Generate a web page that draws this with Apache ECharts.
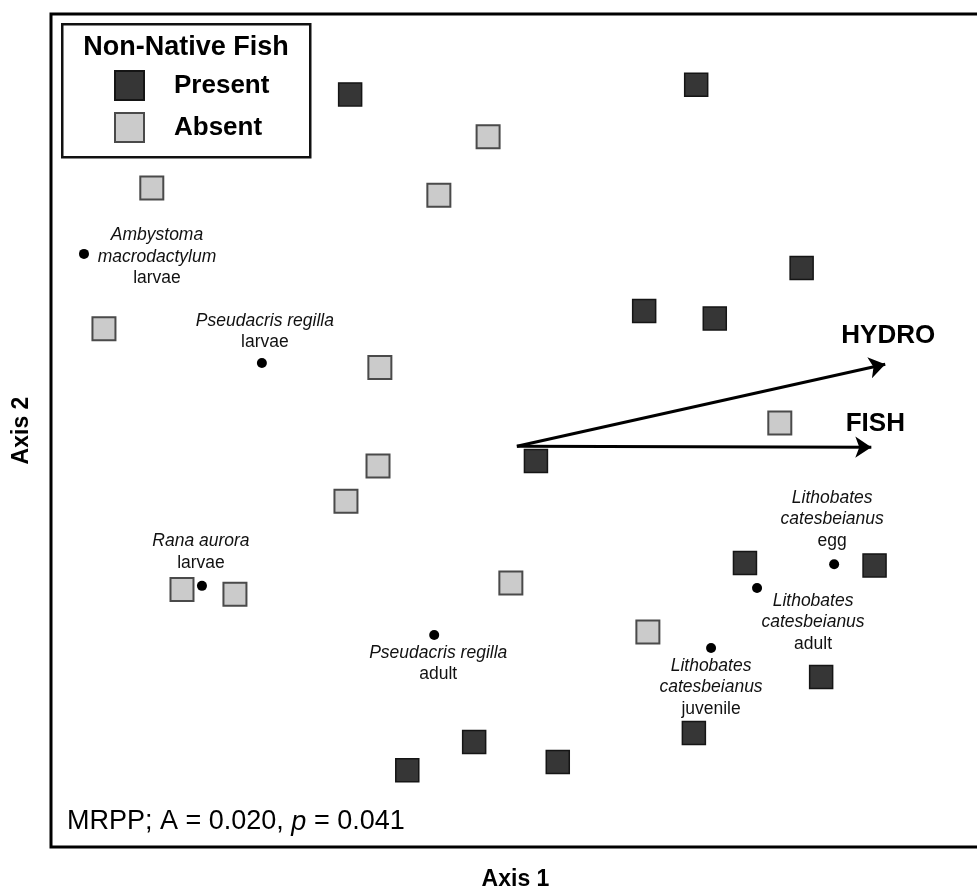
<!DOCTYPE html>
<html>
<head>
<meta charset="utf-8">
<script src="https://cdn.jsdelivr.net/npm/echarts@6/dist/echarts.min.js"></script>
<style>
  html, body { margin: 0; padding: 0; background: #fff; }
  #chartNmds { width: 977px; height: 891px; }
</style>
</head>
<body>
<div id="chartNmds"></div>
<script>
// ordination scores (axis units, -1..1)
const presentX = [-0.356, 0.389, 0.616, 0.277, 0.429, 0.044, 0.494, 0.773, 0.658, 0.384, -0.089, 0.091, -0.233]
const presentY = [0.807, 0.830, 0.390, 0.287, 0.269, -0.073, -0.318, -0.324, -0.592, -0.726, -0.748, -0.796, -0.816]

const absentX = [-0.783, -0.059, -0.165, -0.886, -0.292, -0.296, -0.365, 0.569, -0.718, -0.604, -0.010, 0.285]
const absentY = [0.582, 0.705, 0.565, 0.244, 0.151, -0.085, -0.170, 0.018, -0.382, -0.393, -0.366, -0.484]

const speciesNames = [
  'Ambystoma\nmacrodactylum',
  'Pseudacris regilla',
  'Rana aurora',
  'Pseudacris regilla',
  'Lithobates\ncatesbeianus',
  'Lithobates\ncatesbeianus',
  'Lithobates\ncatesbeianus'
]
const speciesStages = ['larvae', 'larvae', 'larvae', 'adult', 'egg', 'adult', 'juvenile']
const speciesX = [-0.929, -0.546, -0.675, -0.175, 0.686, 0.520, 0.421]
const speciesY = [0.424, 0.162, -0.373, -0.491, -0.321, -0.378, -0.522]

const vectorNames = ['HYDRO', 'FISH']
const vectorOrigin = [0.003, -0.038]
const vectorEndX = [0.796, 0.766]
const vectorEndY = [0.159, -0.040]

const legendTitle = 'Non-Native Fish'
const mrppA = '0.020'
const mrppP = '0.041'

const FONT = '"Liberation Sans", Arial, Helvetica, sans-serif'

// label placement (pixels from the point)
const speciesLabelOffset = [[73, 3], [3, -31.5], [-1, -33.5], [4, 28.5], [-2, -45], [56, 34.5], [0, 39.5]]
const vectorLabelOffset = [[3, -28], [4, -23]]

const myChart = echarts.init(document.getElementById('chartNmds'))

const option = {
  animation: false,
  backgroundColor: '#fff',
  grid: {
    left: 51,
    top: 14,
    right: -3,
    bottom: 44,
    outerBoundsMode: 'none',
    show: true,
    borderColor: '#000',
    borderWidth: 3
  },
  xAxis: {
    type: 'value',
    min: -1,
    max: 1,
    name: 'Axis 1',
    nameLocation: 'middle',
    nameGap: 21,
    nameTextStyle: { fontFamily: FONT, fontWeight: 'bold', fontSize: 23, color: '#000' },
    axisLine: { show: false },
    axisTick: { show: false },
    axisLabel: { show: false },
    splitLine: { show: false }
  },
  yAxis: {
    type: 'value',
    min: -1,
    max: 1,
    name: 'Axis 2',
    nameLocation: 'middle',
    nameGap: 17.5,
    nameTextStyle: { fontFamily: FONT, fontWeight: 'bold', fontSize: 23, color: '#000' },
    axisLine: { show: false },
    axisTick: { show: false },
    axisLabel: { show: false },
    splitLine: { show: false }
  },
  legend: {
    data: ['Present', 'Absent'],
    orient: 'vertical',
    left: 114,
    top: 70,
    padding: 0,
    icon: 'rect',
    itemWidth: 29,
    itemHeight: 29,
    itemGap: 11,
    selectedMode: false,
    z: 6,
    textStyle: {
      fontFamily: FONT,
      fontSize: 26,
      fontWeight: 'bold',
      color: '#000',
      padding: [0, 0, 0, 25]
    }
  },
  graphic: [
    {
      type: 'rect',
      left: 61,
      top: 23,
      z: 5,
      shape: { width: 248, height: 133 },
      style: { fill: '#fff', stroke: '#111', lineWidth: 2.5 }
    },
    {
      type: 'text',
      x: 186,
      y: 48,
      z: 6,
      style: {
        text: legendTitle,
        fontFamily: FONT,
        fontSize: 27,
        fontWeight: 'bold',
        fill: '#000',
        align: 'center',
        verticalAlign: 'middle'
      }
    },
    {
      type: 'text',
      x: 67,
      y: 822,
      z: 6,
      style: {
        text: '{n|MRPP; A = ' + mrppA + ', }{i|p}{n| = ' + mrppP + '}',
        verticalAlign: 'middle',
        rich: {
          n: { fontFamily: FONT, fontSize: 27, fill: '#000' },
          i: { fontFamily: FONT, fontSize: 27, fontStyle: 'italic', fill: '#000' }
        }
      }
    }
  ],
  series: [
    {
      name: 'Present',
      type: 'scatter',
      symbol: 'rect',
      symbolSize: 23,
      itemStyle: { color: '#363636', borderColor: '#151515', borderWidth: 1.5, opacity: 1 },
      data: presentX.map((x, i) => [x, presentY[i]]),
      z: 2
    },
    {
      name: 'Absent',
      type: 'scatter',
      symbol: 'rect',
      symbolSize: 23,
      itemStyle: { color: '#cbcbcb', borderColor: '#4a4a4a', borderWidth: 2, opacity: 1 },
      data: absentX.map((x, i) => [x, absentY[i]]),
      z: 2
    },
    {
      name: 'Species',
      type: 'scatter',
      symbol: 'circle',
      symbolSize: 10,
      itemStyle: { color: '#000', opacity: 1 },
      z: 3,
      label: {
        show: true,
        position: 'inside',
        align: 'center',
        verticalAlign: 'middle',
        color: '#111',
        textBorderWidth: 0,
        formatter: (p) => {
          const lines = speciesNames[p.dataIndex].split('\n').map((s) => '{i|' + s + '}')
          lines.push('{n|' + speciesStages[p.dataIndex] + '}')
          return lines.join('\n')
        },
        rich: {
          i: { fontFamily: FONT, fontSize: 17.5, fontStyle: 'italic', color: '#111', lineHeight: 21.5, align: 'center' },
          n: { fontFamily: FONT, fontSize: 17.5, color: '#111', lineHeight: 21.5, align: 'center' }
        }
      },
      data: speciesX.map((x, i) => ({
        value: [x, speciesY[i]],
        label: { offset: speciesLabelOffset[i] }
      }))
    },
    {
      name: 'Vectors',
      type: 'lines',
      coordinateSystem: 'cartesian2d',
      silent: true,
      z: 4,
      symbol: ['none', 'arrow'],
      symbolSize: 16,
      lineStyle: { color: '#000', width: 3, opacity: 1 },
      data: vectorNames.map((n, i) => ({
        name: n,
        coords: [vectorOrigin, [vectorEndX[i], vectorEndY[i]]]
      }))
    },
    {
      name: 'VectorLabels',
      type: 'scatter',
      symbolSize: 1,
      silent: true,
      itemStyle: { color: 'transparent', opacity: 1 },
      z: 4,
      label: {
        show: true,
        position: 'inside',
        align: 'center',
        verticalAlign: 'middle',
        formatter: (p) => p.name,
        fontFamily: FONT,
        fontSize: 26,
        fontWeight: 'bold',
        color: '#000',
        textBorderWidth: 0
      },
      data: vectorNames.map((n, i) => ({
        name: n,
        value: [vectorEndX[i], vectorEndY[i]],
        label: { offset: vectorLabelOffset[i] }
      }))
    }
  ]
}

myChart.setOption(option)
window.addEventListener('resize', () => {
  myChart.resize()
})
</script>
</body>
</html>
